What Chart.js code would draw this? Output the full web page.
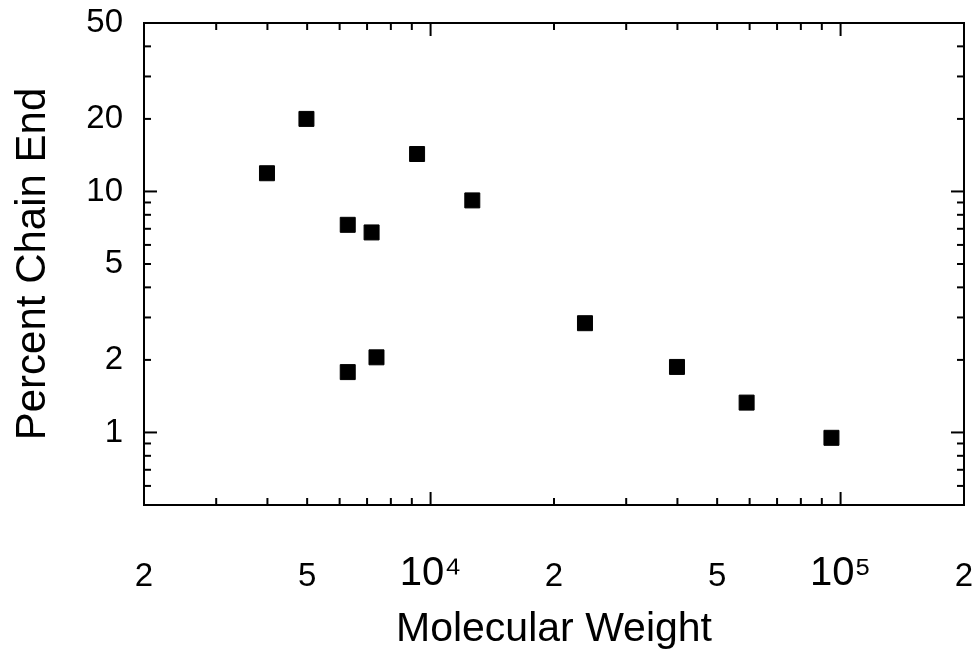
<!DOCTYPE html>
<html>
<head>
<meta charset="utf-8">
<script src="https://cdn.jsdelivr.net/npm/chart.js@4.4.1/dist/chart.umd.min.js"></script>
<style>
  html, body { margin: 0; padding: 0; background: #fff; }
  #main { display: block; }
</style>
</head>
<body>
<canvas id="main" width="976" height="655"></canvas>
<script>
// (log-log)
const molWeight = [3990, 4980, 6280, 7180, 9270, 12640, 6280, 7380, 23800, 39900, 59000, 95000];
const chainEnd = [11.9, 20.0, 7.27, 6.76, 14.3, 9.18, 1.78, 2.05, 2.84, 1.87, 1.33, 0.95];

const xTicks = [2000, 3000, 4000, 5000, 6000, 7000, 8000, 9000, 10000,
  20000, 30000, 40000, 50000, 60000, 70000, 80000, 90000, 100000, 200000];
const xLabelAt = [2000, 5000, 10000, 20000, 50000, 100000, 200000];
const xLabelText = ['2', '5', '10⁴', '2', '5', '10⁵', '2'];

const yTicks = [0.5, 0.6, 0.7, 0.8, 0.9, 1, 2, 3, 4, 5, 6, 7, 8, 9, 10, 20, 30, 40, 50];
const yLabelAt = [1, 2, 5, 10, 20, 50];
const yLabelText = ['1', '2', '5', '10', '20', '50'];

const family = '"Liberation Sans", Arial, sans-serif';
const isDecade = v => Math.abs(Math.log10(v) - Math.round(Math.log10(v))) < 1e-9;

const noPadding = s => {
  s.paddingLeft = 0;
  s.paddingRight = 0;
  s.paddingTop = 0;
  s.paddingBottom = 0;
};

// frame + inward tick marks on all four sides
const insideTicks = {
  id: 'insideTicks',
  afterDraw(chart) {
    const { ctx, chartArea: a, scales: { x, y } } = chart;
    const line = (x1, y1, x2, y2) => {
      ctx.beginPath();
      ctx.moveTo(x1, y1);
      ctx.lineTo(x2, y2);
      ctx.stroke();
    };
    ctx.save();
    ctx.strokeStyle = '#000';
    ctx.lineWidth = 2;
    ctx.strokeRect(a.left, a.top, a.right - a.left, a.bottom - a.top);
    x.ticks.forEach(t => {
      const px = x.getPixelForValue(t.value);
      const len = isDecade(t.value) ? 13 : 7;
      line(px, a.bottom, px, a.bottom - len);
      line(px, a.top, px, a.top + len);
    });
    y.ticks.forEach(t => {
      const py = y.getPixelForValue(t.value);
      const len = isDecade(t.value) ? 13 : 7;
      line(a.left, py, a.left + len, py);
      line(a.right, py, a.right - len, py);
    });
    ctx.restore();
  }
};

new Chart(document.getElementById('main'), {
  type: 'scatter',
  data: {
    datasets: [{
      data: molWeight.map((m, i) => ({ x: m, y: chainEnd[i] })),
      pointStyle: 'rect',
      pointRadius: 10.6,
      backgroundColor: '#000',
      borderColor: '#000',
      borderWidth: 1
    }]
  },
  options: {
    responsive: false,
    animation: false,
    layout: { padding: { top: 23, right: 12, left: 0, bottom: 0 } },
    plugins: { legend: { display: false }, tooltip: { enabled: false } },
    scales: {
      x: {
        type: 'logarithmic',
        min: 2000,
        max: 200000,
        grid: { display: false, drawTicks: false },
        border: { display: false },
        afterBuildTicks: s => { s.ticks = xTicks.map(v => ({ value: v })); },
        ticks: {
          autoSkip: false,
          maxRotation: 0,
          padding: 52,
          color: '#000',
          // the 10^n labels are a bit larger, baselines kept level
          font: c => isDecade(c.tick.value)
            ? { family, size: 40, lineHeight: 0.8675 }
            : { family, size: 33 },
          callback: v => {
            const i = xLabelAt.indexOf(v);
            return i < 0 ? '' : xLabelText[i];
          }
        },
        title: {
          display: true,
          text: 'Molecular Weight',
          color: '#000',
          font: { family, size: 41 },
          padding: { top: 0, bottom: 1 }
        },
        afterFit: s => { s.height = 150; noPadding(s); }
      },
      y: {
        type: 'logarithmic',
        min: 0.5,
        max: 50,
        grid: { display: false, drawTicks: false },
        border: { display: false },
        afterBuildTicks: s => { s.ticks = yTicks.map(v => ({ value: v })); },
        ticks: {
          autoSkip: false,
          padding: 21,
          color: '#000',
          font: { family, size: 33 },
          callback: v => {
            const i = yLabelAt.indexOf(v);
            return i < 0 ? '' : yLabelText[i];
          }
        },
        title: {
          display: true,
          text: 'Percent Chain End',
          color: '#000',
          font: { family, size: 42 },
          padding: { top: 8, bottom: 0 }
        },
        afterFit: s => { s.width = 144; noPadding(s); }
      }
    }
  },
  plugins: [insideTicks]
});
</script>
</body>
</html>
